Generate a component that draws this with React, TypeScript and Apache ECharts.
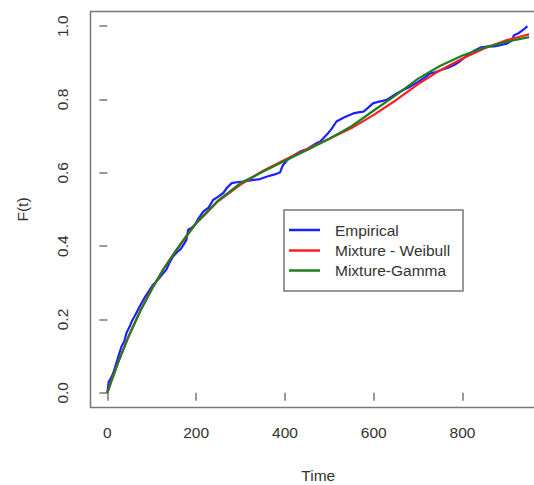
import React, { useEffect, useRef } from "react";
import * as echarts from "echarts";

const xTicks = [0, 200, 400, 600, 800];
const yTicks = [0, 0.2, 0.4, 0.6, 0.8, 1.0];
const legendNames = ["Empirical", "Mixture - Weibull", "Mixture-Gamma"];
const colors = ["#1f1fff", "#ff1f1f", "#1f7f1f"];

const empirical: [number, number][] = [
  [0, 0.0], [3, 0.03], [6, 0.036], [12, 0.05], [17, 0.068], [25, 0.1], [32, 0.127],
  [38, 0.14], [43, 0.163], [50, 0.18], [55, 0.195], [62, 0.21], [73, 0.236], [85, 0.262],
  [95, 0.28], [103, 0.295], [115, 0.31], [125, 0.325], [133, 0.336], [140, 0.355],
  [148, 0.372], [158, 0.385], [165, 0.392], [172, 0.405], [178, 0.417], [182, 0.445],
  [190, 0.45], [197, 0.458], [205, 0.475], [216, 0.494], [228, 0.505], [238, 0.526],
  [250, 0.535], [261, 0.545], [270, 0.56], [280, 0.572], [295, 0.575], [306, 0.576],
  [325, 0.58], [344, 0.583], [360, 0.59], [375, 0.595], [389, 0.601], [395, 0.62],
  [405, 0.635], [415, 0.644], [434, 0.658], [450, 0.665], [471, 0.681], [479, 0.685],
  [495, 0.705], [505, 0.72], [516, 0.74], [535, 0.752], [554, 0.762], [565, 0.765],
  [577, 0.767], [585, 0.775], [599, 0.79], [615, 0.795], [629, 0.799], [650, 0.815],
  [665, 0.825], [682, 0.835], [700, 0.848], [715, 0.86], [727, 0.871], [740, 0.875],
  [755, 0.882], [772, 0.889], [781, 0.894], [795, 0.905], [811, 0.921], [825, 0.932],
  [841, 0.942], [855, 0.944], [871, 0.945], [885, 0.948], [901, 0.953], [910, 0.96],
  [916, 0.975], [925, 0.98], [931, 0.985], [940, 0.993], [946, 1.0],
];

const weibull: [number, number][] = [
  [0, 0.0], [10, 0.035], [25, 0.085], [50, 0.16], [75, 0.226], [100, 0.283],
  [125, 0.335], [150, 0.38], [175, 0.423], [200, 0.462], [250, 0.523], [300, 0.568],
  [350, 0.605], [400, 0.636], [450, 0.665], [500, 0.693], [550, 0.722], [600, 0.758],
  [650, 0.798], [700, 0.842], [750, 0.88], [800, 0.912], [850, 0.94], [900, 0.962],
  [950, 0.978],
];

const gamma: [number, number][] = [
  [0, 0.0], [10, 0.035], [25, 0.085], [50, 0.16], [75, 0.225], [100, 0.282],
  [125, 0.335], [150, 0.38], [175, 0.422], [200, 0.463], [250, 0.525], [300, 0.572],
  [350, 0.603], [400, 0.633], [450, 0.662], [500, 0.693], [550, 0.727], [600, 0.77],
  [650, 0.812], [700, 0.857], [750, 0.892], [800, 0.92], [850, 0.942], [900, 0.958],
  [950, 0.97],
];

const FONT = "'Liberation Sans', Arial, sans-serif";
const AXIS_COLOR = "#777";
const TEXT_COLOR = "#333";

export default function App() {
  const ref = useRef<HTMLDivElement>(null);
  useEffect(() => {
    if (!ref.current) return;
    const chart = echarts.init(ref.current, undefined, { renderer: "svg" });
    const seriesData = [empirical, weibull, gamma];
    const legendRows = [230, 250.5, 270.5];
    chart.setOption({
      animation: false,
      backgroundColor: "#fff",
      grid: {
        left: 90.5,
        top: 11.5,
        width: 455.5,
        height: 396,
        show: true,
        borderColor: AXIS_COLOR,
        borderWidth: 1.5,
        backgroundColor: "transparent",
        containLabel: false,
        outerBoundsMode: "none",
      },
      xAxis: {
        type: "value",
        min: -38,
        max: 988,
        name: "Time",
        nameLocation: "middle",
        nameGap: 60,
        nameTextStyle: { fontSize: 15.5, color: TEXT_COLOR, fontFamily: FONT },
        axisLine: { show: false },
        splitLine: { show: false },
        axisTick: {
          show: true,
          inside: false,
          length: 8,
          customValues: xTicks,
          lineStyle: { color: AXIS_COLOR, width: 1.5 },
        },
        axisLabel: {
          customValues: xTicks,
          margin: 17,
          fontSize: 15.5,
          color: TEXT_COLOR,
          fontFamily: FONT,
        },
      },
      yAxis: {
        type: "value",
        min: -0.04,
        max: 1.04,
        name: "F(t)",
        nameLocation: "middle",
        nameGap: 60,
        nameRotate: 90,
        nameTextStyle: { fontSize: 15.5, color: TEXT_COLOR, fontFamily: FONT },
        axisLine: { show: false },
        splitLine: { show: false },
        axisTick: {
          show: true,
          inside: false,
          length: 8,
          customValues: yTicks,
          lineStyle: { color: AXIS_COLOR, width: 1.5 },
        },
        axisLabel: {
          customValues: yTicks,
          rotate: 90,
          margin: 20,
          fontSize: 15.5,
          color: TEXT_COLOR,
          fontFamily: FONT,
          formatter: (v: number) => v.toFixed(1),
        },
      },
      series: legendNames.map((name, i) => ({
        name,
        type: "line",
        data: seriesData[i],
        showSymbol: false,
        symbol: "none",
        lineStyle: { color: colors[i], width: 2.2 },
        z: 2 + i,
      })),
      graphic: [
        {
          type: "group",
          z: 100,
          children: [
            {
              type: "rect",
              shape: { x: 284, y: 210, width: 179, height: 81 },
              style: { fill: "#fff", stroke: AXIS_COLOR, lineWidth: 1.5 },
            },
            ...legendNames.flatMap((name, i) => [
              {
                type: "line",
                shape: { x1: 289, y1: legendRows[i], x2: 320, y2: legendRows[i] },
                style: { stroke: colors[i], lineWidth: 2.5 },
              },
              {
                type: "text",
                x: 335,
                y: legendRows[i],
                style: {
                  text: name,
                  fontSize: 15.5,
                  fontFamily: FONT,
                  fill: TEXT_COLOR,
                  verticalAlign: "middle",
                  align: "left",
                },
              },
            ]),
          ],
        },
      ],
    });
    return () => chart.dispose();
  }, []);
  return (
    <div
      ref={ref}
      style={{ position: "absolute", left: 0, top: 0, width: 534, height: 485 }}
    />
  );
}
